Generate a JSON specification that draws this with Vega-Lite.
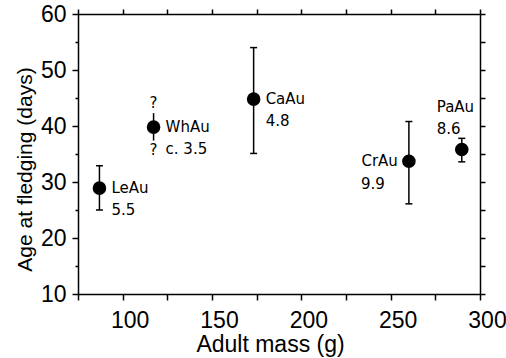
{
  "$schema": "https://vega.github.io/schema/vega-lite/v6.json",
  "width": 402,
  "height": 280,
  "autosize": {"type": "none"},
  "padding": {"left": 78, "top": 14, "right": 26, "bottom": 64},
  "background": "white",
  "config": {"view": {"stroke": null}, "font": "Liberation Sans"},
  "data": {"values": [
    {"species": "LeAu", "mass": 87, "age": 28.9, "lo": 25, "hi": 32.9, "clutch": "5.5"},
    {"species": "WhAu", "mass": 117.3, "age": 39.8, "lo": 37.4, "hi": 42.3, "clutch": "c. 3.5"},
    {"species": "CaAu", "mass": 173.3, "age": 44.8, "lo": 35.1, "hi": 54, "clutch": "4.8"},
    {"species": "CrAu", "mass": 260.2, "age": 33.7, "lo": 26.1, "hi": 40.8, "clutch": "9.9"},
    {"species": "PaAu", "mass": 289.8, "age": 35.8, "lo": 33.6, "hi": 37.8, "clutch": "8.6"}
  ]},
  "resolve": {"axis": {"x": "independent", "y": "independent"}},
  "layer": [
    {
      "mark": {"type": "rule", "color": "black", "strokeWidth": 1.5},
      "encoding": {
        "x": {"field": "mass", "type": "quantitative",
          "scale": {"domain": [75, 300], "nice": false, "zero": false},
          "axis": {"orient": "bottom", "values": [75, 100, 125, 150, 175, 200, 225, 250, 275, 300],
            "labelExpr": "datum.value % 50 === 0 ? datum.label : ''",
            "title": "Adult mass (g)", "grid": false,
            "domainColor": "black", "domainWidth": 1.5, "tickColor": "black", "tickWidth": 1.5, "tickSize": 6,
            "labelFont": "Liberation Sans", "labelFontSize": 23, "labelColor": "black",
            "labelBaseline": "alphabetic", "labelPadding": 27, "labelOffset": 7,
            "labelFlush": false, "labelOverlap": false,
            "titleFont": "Liberation Sans", "titleFontSize": 23, "titleFontWeight": "normal", "titleColor": "black",
            "titleX": 192, "titleY": 57, "titleBaseline": "alphabetic", "titleAlign": "center"}},
        "y": {"field": "lo", "type": "quantitative",
          "scale": {"domain": [10, 60], "nice": false, "zero": false},
          "axis": {"orient": "left", "values": [10, 15, 20, 25, 30, 35, 40, 45, 50, 55, 60],
            "labelExpr": "datum.value % 10 === 0 ? datum.label : ''",
            "title": "Age at fledging (days)", "grid": false,
            "domainColor": "black", "domainWidth": 1.5, "tickColor": "black", "tickWidth": 1.5,
            "tickSize": {"condition": {"test": "datum.value % 10 === 0", "value": 6}, "value": 3},
            "labelFont": "Liberation Sans", "labelFontSize": 23, "labelColor": "black",
            "labelAlign": "right", "labelBaseline": "middle", "labelPadding": 6,
            "labelFlush": false, "labelOverlap": false,
            "titleFont": "Liberation Sans", "titleFontSize": 21, "titleFontWeight": "normal", "titleColor": "black",
            "titleAngle": -90, "titleX": -47, "titleY": 155, "titleBaseline": "alphabetic", "titleAlign": "center"}},
        "y2": {"field": "hi"}
      }
    },
    {
      "transform": [{"filter": "datum.species !== 'WhAu'"}],
      "mark": {"type": "tick", "orient": "horizontal", "color": "black", "thickness": 1.5, "size": 7, "opacity": 1},
      "encoding": {
        "x": {"field": "mass", "type": "quantitative", "axis": null},
        "y": {"field": "lo", "type": "quantitative", "axis": null}
      }
    },
    {
      "transform": [{"filter": "datum.species !== 'WhAu'"}],
      "mark": {"type": "tick", "orient": "horizontal", "color": "black", "thickness": 1.5, "size": 7, "opacity": 1},
      "encoding": {
        "x": {"field": "mass", "type": "quantitative", "axis": null},
        "y": {"field": "hi", "type": "quantitative", "axis": null}
      }
    },
    {
      "mark": {"type": "circle", "size": 185, "color": "black", "opacity": 1},
      "encoding": {
        "x": {"field": "mass", "type": "quantitative", "axis": null},
        "y": {"field": "age", "type": "quantitative", "axis": null}
      }
    },
    {
      "transform": [{"filter": "datum.species === 'LeAu' || datum.species === 'WhAu' || datum.species === 'CaAu'"}],
      "mark": {"type": "text", "font": "DejaVu Sans", "fontSize": 15, "color": "black", "align": "left", "baseline": "middle", "dx": 12},
      "encoding": {
        "x": {"field": "mass", "type": "quantitative", "axis": null},
        "y": {"field": "age", "type": "quantitative", "axis": null},
        "text": {"field": "species"}
      }
    },
    {
      "transform": [{"filter": "datum.species === 'LeAu' || datum.species === 'WhAu' || datum.species === 'CaAu'"}],
      "mark": {"type": "text", "font": "DejaVu Sans", "fontSize": 15, "color": "black", "align": "left", "baseline": "middle", "dx": 12, "dy": 22},
      "encoding": {
        "x": {"field": "mass", "type": "quantitative", "axis": null},
        "y": {"field": "age", "type": "quantitative", "axis": null},
        "text": {"field": "clutch"}
      }
    },
    {
      "transform": [{"filter": "datum.species === 'WhAu'"}],
      "mark": {"type": "text", "font": "DejaVu Sans", "fontSize": 15, "color": "black", "align": "center", "baseline": "middle", "dy": -24, "text": "?"},
      "encoding": {
        "x": {"field": "mass", "type": "quantitative", "axis": null},
        "y": {"field": "age", "type": "quantitative", "axis": null}
      }
    },
    {
      "transform": [{"filter": "datum.species === 'WhAu'"}],
      "mark": {"type": "text", "font": "DejaVu Sans", "fontSize": 15, "color": "black", "align": "center", "baseline": "middle", "dy": 23, "text": "?"},
      "encoding": {
        "x": {"field": "mass", "type": "quantitative", "axis": null},
        "y": {"field": "age", "type": "quantitative", "axis": null}
      }
    },
    {
      "transform": [{"filter": "datum.species === 'CrAu'"}],
      "mark": {"type": "text", "font": "DejaVu Sans", "fontSize": 15, "color": "black", "align": "right", "baseline": "middle", "dx": -11},
      "encoding": {
        "x": {"field": "mass", "type": "quantitative", "axis": null},
        "y": {"field": "age", "type": "quantitative", "axis": null},
        "text": {"field": "species"}
      }
    },
    {
      "transform": [{"filter": "datum.species === 'CrAu'"}],
      "mark": {"type": "text", "font": "DejaVu Sans", "fontSize": 15, "color": "black", "align": "right", "baseline": "middle", "dx": -24, "dy": 23},
      "encoding": {
        "x": {"field": "mass", "type": "quantitative", "axis": null},
        "y": {"field": "age", "type": "quantitative", "axis": null},
        "text": {"field": "clutch"}
      }
    },
    {
      "transform": [{"filter": "datum.species === 'PaAu'"}],
      "mark": {"type": "text", "font": "DejaVu Sans", "fontSize": 15, "color": "black", "align": "left", "baseline": "middle", "dx": -25, "dy": -43},
      "encoding": {
        "x": {"field": "mass", "type": "quantitative", "axis": null},
        "y": {"field": "age", "type": "quantitative", "axis": null},
        "text": {"field": "species"}
      }
    },
    {
      "transform": [{"filter": "datum.species === 'PaAu'"}],
      "mark": {"type": "text", "font": "DejaVu Sans", "fontSize": 15, "color": "black", "align": "left", "baseline": "middle", "dx": -25, "dy": -21},
      "encoding": {
        "x": {"field": "mass", "type": "quantitative", "axis": null},
        "y": {"field": "age", "type": "quantitative", "axis": null},
        "text": {"field": "clutch"}
      }
    },
    {
      "mark": {"type": "point", "opacity": 0},
      "encoding": {
        "x": {"field": "mass", "type": "quantitative",
          "axis": {"orient": "top", "values": [75, 100, 125, 150, 175, 200, 225, 250, 275, 300],
            "labels": false, "title": null, "grid": false,
            "domainColor": "black", "domainWidth": 1.5, "tickColor": "black", "tickWidth": 1.5, "tickSize": 5}},
        "y": {"field": "age", "type": "quantitative",
          "axis": {"orient": "right", "values": [10, 15, 20, 25, 30, 35, 40, 45, 50, 55, 60],
            "labels": false, "title": null, "grid": false,
            "domainColor": "black", "domainWidth": 1.5, "tickColor": "black", "tickWidth": 1.5, "tickSize": 5}}
      }
    }
  ]
}
